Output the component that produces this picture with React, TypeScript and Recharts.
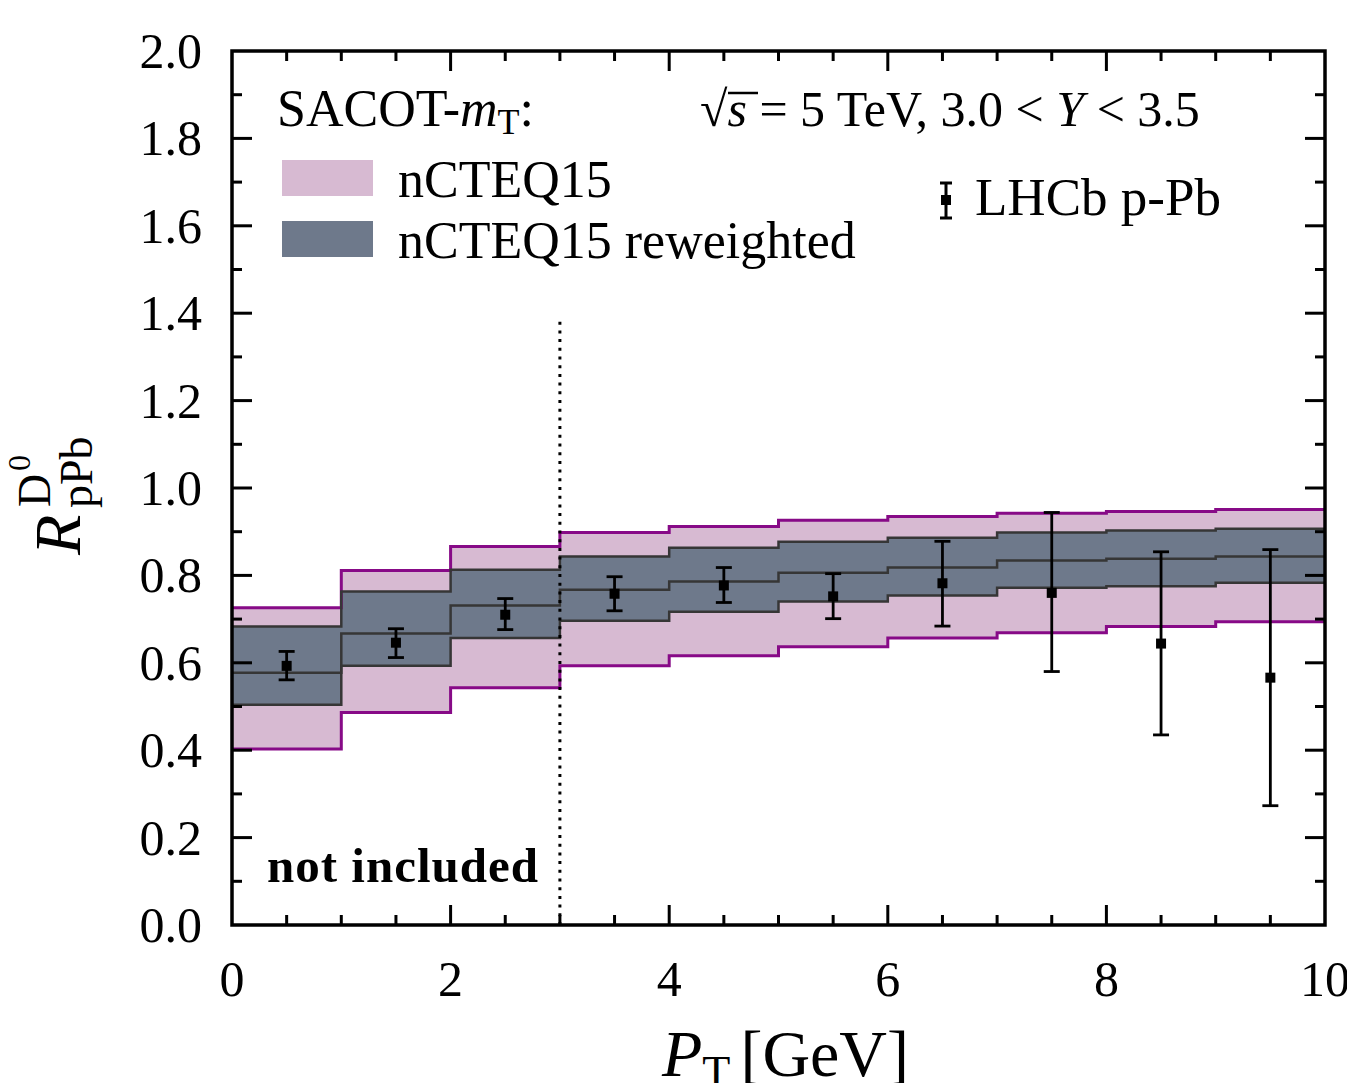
// D0 nuclear modification factor vs PT: nCTEQ15 bands (prior / reweighted) with LHCb points

import {
  ComposedChart, Area, Line, Scatter, ErrorBar, XAxis, YAxis, ReferenceLine,
} from 'recharts'

// bins in PT [GeV]; the last entry repeats bin 9 so the step runs out to 10
const BIN_EDGES = [0, 1, 2, 3, 4, 5, 6, 7, 8, 9, 10]
const PRIOR_LOW = [0.403, 0.486, 0.543, 0.593, 0.616, 0.637, 0.657, 0.669, 0.683, 0.694, 0.694]
const PRIOR_HIGH = [0.726, 0.811, 0.866, 0.898, 0.912, 0.926, 0.935, 0.942, 0.946, 0.951, 0.951]
const REW_LOW = [0.504, 0.593, 0.657, 0.696, 0.717, 0.740, 0.754, 0.772, 0.775, 0.783, 0.783]
const REW_HIGH = [0.683, 0.763, 0.813, 0.843, 0.863, 0.877, 0.886, 0.898, 0.903, 0.907, 0.907]
const REW_CENTRAL = [0.577, 0.667, 0.731, 0.767, 0.786, 0.806, 0.818, 0.834, 0.838, 0.843, 0.843]

// LHCb p-Pb data
const LHCB_PT = [0.5, 1.5, 2.5, 3.5, 4.5, 5.5, 6.5, 7.5, 8.5, 9.5]
const LHCB_R = [0.593, 0.646, 0.710, 0.758, 0.777, 0.752, 0.782, 0.760, 0.644, 0.566]
const LHCB_LOW = [0.561, 0.612, 0.676, 0.719, 0.738, 0.701, 0.684, 0.580, 0.435, 0.273]
const LHCB_HIGH = [0.626, 0.678, 0.747, 0.797, 0.818, 0.804, 0.878, 0.944, 0.854, 0.859]

const X_TICKS = Array.from({ length: 21 }, (_, i) => i * 0.5)
const Y_TICKS = Array.from({ length: 21 }, (_, i) => Math.round(i) / 10)

const W = 1347
const H = 1083
const PLOT_LEFT = 232
const PLOT_RIGHT = 1325
const PLOT_TOP = 51
const PLOT_BOTTOM = 925

const PINK = '#d7bad2'
const PURPLE = '#870a87'
const SLATE = '#6e798b'
const EDGE = '#363636'
const FONT = "'Liberation Serif', 'DejaVu Serif', serif"

const bands = BIN_EDGES.map((x, i) => ({
  x,
  priorLow: PRIOR_LOW[i],
  priorHigh: PRIOR_HIGH[i],
  rewLow: REW_LOW[i],
  rewHigh: REW_HIGH[i],
  central: REW_CENTRAL[i],
}))

const points = LHCB_PT.map((x, i) => ({
  x,
  y: LHCB_R[i],
  err: [LHCB_R[i] - LHCB_LOW[i], LHCB_HIGH[i] - LHCB_R[i]],
}))

function XTick({ x, payload }: any) {
  const v = payload.value as number
  const major = Math.abs(v % 2) < 1e-6
  const len = major ? 20 : 10
  const edge = v === 0 || v === 10
  return (
    <g>
      {!edge && (
        <>
          <line x1={x} x2={x} y1={PLOT_BOTTOM} y2={PLOT_BOTTOM - len} stroke="#000" strokeWidth={3} />
          <line x1={x} x2={x} y1={PLOT_TOP} y2={PLOT_TOP + len} stroke="#000" strokeWidth={3} />
        </>
      )}
      {major && (
        <text x={x} y={996} textAnchor="middle" fontFamily={FONT} fontSize={50} fill="#000">
          {v}
        </text>
      )}
    </g>
  )
}

function YTick({ y, payload }: any) {
  const v = payload.value as number
  const major = Math.round(v * 10) % 2 === 0
  const len = major ? 20 : 10
  const edge = v === 0 || v === 2
  return (
    <g>
      {!edge && (
        <>
          <line x1={PLOT_LEFT} x2={PLOT_LEFT + len} y1={y} y2={y} stroke="#000" strokeWidth={3} />
          <line x1={PLOT_RIGHT} x2={PLOT_RIGHT - len} y1={y} y2={y} stroke="#000" strokeWidth={3} />
        </>
      )}
      {major && (
        <text x={202} y={y + 17} textAnchor="end" fontFamily={FONT} fontSize={50} fill="#000">
          {v.toFixed(1)}
        </text>
      )}
    </g>
  )
}

const square = ({ cx, cy }: any) => (
  <rect x={cx - 5} y={cy - 5} width={10} height={10} fill="#000" />
)

export default function App() {
  return (
    <div style={{ position: 'absolute', left: 0, top: 0, width: W, height: H, background: '#fff' }}>
      <ComposedChart
        width={W}
        height={H}
        data={bands}
        margin={{ top: PLOT_TOP, right: W - PLOT_RIGHT, bottom: H - PLOT_BOTTOM - 60, left: PLOT_LEFT - 100 }}
      >
        <XAxis
          type="number" dataKey="x" domain={[0, 10]} ticks={X_TICKS} interval={0}
          height={60} tick={XTick} tickLine={false} axisLine={false} allowDataOverflow
        />
        <YAxis
          type="number" domain={[0, 2]} ticks={Y_TICKS} interval={0}
          width={100} tick={YTick} tickLine={false} axisLine={false} allowDataOverflow
        />

        {/* nCTEQ15 prior band */}
        <Area type="stepAfter" dataKey={(d: any) => [d.priorLow, d.priorHigh]}
          fill={PINK} fillOpacity={1} stroke="none" isAnimationActive={false} />
        <Line type="stepAfter" dataKey="priorLow" stroke={PURPLE} strokeWidth={3}
          dot={false} activeDot={false} isAnimationActive={false} />
        <Line type="stepAfter" dataKey="priorHigh" stroke={PURPLE} strokeWidth={3}
          dot={false} activeDot={false} isAnimationActive={false} />

        {/* reweighted band */}
        <Area type="stepAfter" dataKey={(d: any) => [d.rewLow, d.rewHigh]}
          fill={SLATE} fillOpacity={1} stroke="none" isAnimationActive={false} />
        <Line type="stepAfter" dataKey="rewLow" stroke={EDGE} strokeWidth={2.5}
          dot={false} activeDot={false} isAnimationActive={false} />
        <Line type="stepAfter" dataKey="rewHigh" stroke={EDGE} strokeWidth={2.5}
          dot={false} activeDot={false} isAnimationActive={false} />
        <Line type="stepAfter" dataKey="central" stroke={EDGE} strokeWidth={2.5}
          dot={false} activeDot={false} isAnimationActive={false} />

        <ReferenceLine segment={[{ x: 3, y: 0 }, { x: 3, y: 1.39 }]}
          stroke="#000" strokeWidth={3} strokeDasharray="3 5.7" />

        <Scatter data={points} dataKey="y" shape={square} isAnimationActive={false}>
          <ErrorBar dataKey="err" direction="y" width={8} stroke="#000" strokeWidth={2.8} />
        </Scatter>
      </ComposedChart>

      <svg width={W} height={H} style={{ position: 'absolute', left: 0, top: 0, pointerEvents: 'none' }}
        fontFamily={FONT} fill="#000">
        <rect x={PLOT_LEFT} y={PLOT_TOP} width={PLOT_RIGHT - PLOT_LEFT} height={PLOT_BOTTOM - PLOT_TOP}
          fill="none" stroke="#000" strokeWidth={3.5} />

        {/* legend */}
        <text x={277} y={126} fontSize={52}>
          SACOT-<tspan fontStyle="italic">m</tspan>
          <tspan fontSize={36} dy={8}>T</tspan>
          <tspan dy={-8}>:</tspan>
        </text>
        <rect x={282} y={160} width={91} height={36} fill={PINK} />
        <text x={398} y={197} fontSize={52}>nCTEQ15</text>
        <rect x={282} y={221} width={91} height={36} fill={SLATE} />
        <text x={398} y={258} fontSize={52}>nCTEQ15 reweighted</text>

        <text x={700} y={126} fontSize={50}>
          √<tspan fontStyle="italic">s</tspan> = 5 TeV, 3.0 &lt; <tspan fontStyle="italic">Y</tspan> &lt; 3.5
        </text>
        <line x1={728} x2={758} y1={93} y2={93} stroke="#000" strokeWidth={2.5} />

        <line x1={946} x2={946} y1={183} y2={218} stroke="#000" strokeWidth={3} />
        <line x1={940} x2={952} y1={183} y2={183} stroke="#000" strokeWidth={3} />
        <line x1={940} x2={952} y1={218} y2={218} stroke="#000" strokeWidth={3} />
        <rect x={941} y={195} width={10} height={10} fill="#000" />
        <text x={975} y={215} fontSize={53}>LHCb p-Pb</text>

        <text x={267} y={882} fontSize={49} fontWeight="bold" letterSpacing={1}>not included</text>

        {/* axis titles */}
        <text x={662} y={1076} fontSize={66}>
          <tspan fontStyle="italic">P</tspan>
          <tspan fontSize={46} dy={12}>T</tspan>
          <tspan dy={-12} dx={10}>[GeV]</tspan>
        </text>
        <g transform="translate(80, 555) rotate(-90)">
          <text x={0} y={0} fontSize={66} fontStyle="italic">R</text>
          <text x={48} y={-30} fontSize={46}>D</text>
          <text x={84} y={-50} fontSize={32}>0</text>
          <text x={47} y={12} fontSize={46}>pPb</text>
        </g>
      </svg>
    </div>
  )
}
